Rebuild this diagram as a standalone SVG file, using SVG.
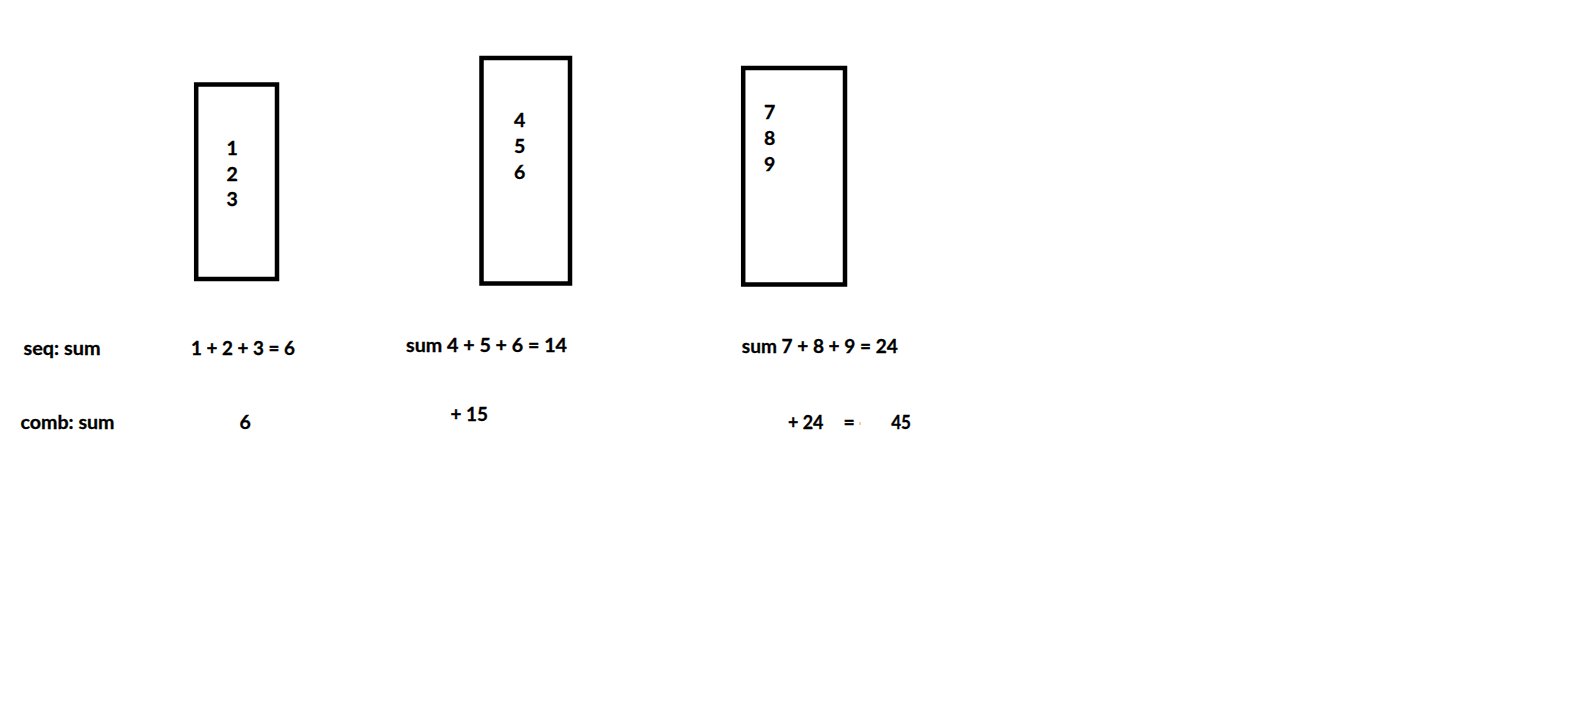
<svg xmlns="http://www.w3.org/2000/svg" width="1594" height="723" viewBox="0 0 1594 723">
<style>
.box{fill:none;stroke:#000;stroke-width:4.5}
.t{font-family:Lato,"Open Sans","Liberation Sans",sans-serif;font-weight:bold;font-size:19.5px;fill:#000;stroke:#000;stroke-width:0.3}
</style>
<rect width="1594" height="723" fill="#fff"/>
<g id="box1">
<rect class="box" x="196.2" y="84.5" width="80.8" height="194.5"/>
<text class="t" x="226.5" y="154.5">1</text>
<text class="t" x="226.5" y="180.5">2</text>
<text class="t" x="226.5" y="206.2">3</text>
</g>
<g id="box2">
<rect class="box" x="481.5" y="58" width="88.5" height="225.5"/>
<text class="t" x="514" y="127.2">4</text>
<text class="t" x="514" y="153.2">5</text>
<text class="t" x="514" y="178.8">6</text>
</g>
<g id="box3">
<rect class="box" x="743.2" y="68" width="101.8" height="216.5"/>
<text class="t" x="764" y="118.8">7</text>
<text class="t" x="764" y="144.5">8</text>
<text class="t" x="764" y="170.5">9</text>
</g>
<g id="labels">
<text class="t" x="23.5" y="355" textLength="77" lengthAdjust="spacingAndGlyphs">seq: sum</text>
<text class="t" x="191" y="355" textLength="104" lengthAdjust="spacingAndGlyphs">1 + 2 + 3 = 6</text>
<text class="t" x="406" y="352.4" textLength="161" lengthAdjust="spacingAndGlyphs">sum  4 + 5 + 6 = 14</text>
<text class="t" x="741.8" y="353" textLength="156" lengthAdjust="spacingAndGlyphs">sum 7 + 8 + 9 = 24</text>
<text class="t" x="20.5" y="429" textLength="94" lengthAdjust="spacingAndGlyphs">comb: sum</text>
<text class="t" x="239.5" y="429">6</text>
<text class="t" x="450.5" y="421.4" textLength="37.5" lengthAdjust="spacingAndGlyphs">+ 15</text>
<text class="t" x="788" y="429" textLength="35.5" lengthAdjust="spacingAndGlyphs">+ 24</text>
<text class="t" x="843.5" y="429">=</text>
<text class="t" x="891.2" y="429" textLength="19.8" lengthAdjust="spacingAndGlyphs">45</text>
<rect x="859.5" y="422" width="1" height="3" fill="#f0a040"/>
</g>
</svg>
